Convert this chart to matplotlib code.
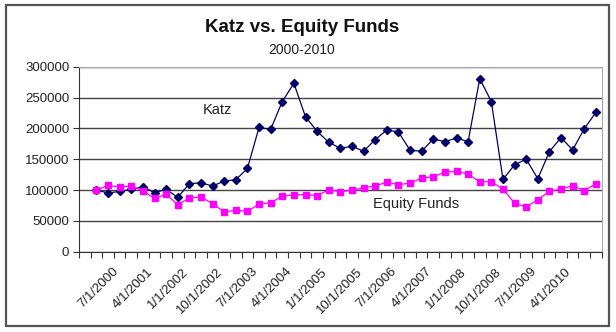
import matplotlib
matplotlib.use("Agg")
import matplotlib.pyplot as plt
import matplotlib.patches as patches
import matplotlib.transforms as mtransforms
import numpy as np

plt.rcParams['font.family'] = ['Liberation Sans', 'DejaVu Sans']

# quarterly categories, 1/1/2000 .. 1/1/2011 (first quarter has no value)
quarters = []
for year in range(2000, 2012):
    for month in (1, 4, 7, 10):
        quarters.append("%d/1/%d" % (month, year))
quarters = quarters[:45]

katz = [None,
        100000, 95200, 97800, 101000, 105400, 95700, 101000, 88200, 110200, 111800,
        106500, 114500, 116700, 135000, 201600, 198400, 243500, 273000, 218800, 195200,
        177400, 167700, 171000, 162900, 181700, 197300, 194100, 164500, 162900, 182800,
        178500, 184400, 178500, 280600, 243500, 117200, 140900, 150000, 118300, 162400,
        185000, 165000, 199500, 225800]

equity = [None,
          100000, 107500, 104800, 106500, 98400, 86600, 93000, 76300, 87100, 88700,
          78000, 64500, 67200, 65600, 76900, 79600, 89800, 92500, 92500, 90900,
          100500, 97300, 99500, 103800, 106500, 112900, 108600, 111300, 119400, 121500,
          129000, 130100, 125800, 113400, 113400, 101600, 78500, 72600, 84400, 97800,
          101600, 107000, 98900, 110200]

x = np.arange(len(quarters))
katz_y = np.array([np.nan if v is None else v for v in katz], dtype=float)
equity_y = np.array([np.nan if v is None else v for v in equity], dtype=float)

fig = plt.figure(figsize=(6.16, 3.32), dpi=100)
fig.patch.set_facecolor("white")

# outer chart frame
fig.add_artist(patches.Rectangle((6 / 616, 1 - 326 / 332), 603 / 616, 321 / 332,
                                 transform=fig.transFigure, fill=False,
                                 edgecolor="#555555", linewidth=1.6))

ax = fig.add_axes([79 / 616, 1 - 251.7 / 332, (601.7 - 79) / 616, (251.7 - 66.7) / 332])

ax.plot(x, katz_y, color="#000066", linewidth=0.9, marker="D", markersize=3.8,
        markerfacecolor="#000066", markeredgecolor="#000066")
ax.plot(x, equity_y, color="#ff00ff", linewidth=0.9, marker="s", markersize=4.4,
        markerfacecolor="#ff00ff", markeredgecolor="#ff00ff")

ax.set_xlim(-0.5, len(quarters) - 0.5)
ax.set_ylim(0, 300000)
ax.set_yticks(np.arange(0, 300001, 50000))
ax.yaxis.grid(True, color="#444444", linewidth=1.0)
ax.set_axisbelow(True)

# tick marks between categories, labels every third quarter
ax.set_xticks(np.arange(-0.5, len(quarters), 1.0))
ax.set_xticklabels([])
label_pos = list(range(2, len(quarters), 3))[:14]
ax.set_xticks(label_pos, [quarters[i] for i in label_pos], minor=True)
ax.tick_params(axis="x", which="minor", length=0, pad=10)
shift = mtransforms.ScaledTranslation(4 / 100, 0, fig.dpi_scale_trans)
for lbl in ax.get_xticklabels(minor=True):
    lbl.set_rotation(45)
    lbl.set_ha("right")
    lbl.set_va("top")
    lbl.set_rotation_mode("anchor")
    lbl.set_fontsize(9.5)
    lbl.set_color("#222222")
    lbl.set_transform(lbl.get_transform() + shift)
ax.tick_params(axis="x", which="major", direction="out", length=4, color="#333333")
ax.tick_params(axis="y", direction="out", length=4, color="#333333",
               labelsize=9.5, labelcolor="#222222", pad=3)

ax.spines["left"].set_color("#333333")
ax.spines["bottom"].set_color("#333333")
ax.spines["top"].set_color("#aaaaaa")
ax.spines["right"].set_color("#aaaaaa")

ax.text(11.4, 230000, "Katz", fontsize=10.5, color="#222222", ha="center", va="center")
ax.text(28.5, 77000, "Equity Funds", fontsize=10.5, color="#222222", ha="center", va="center")

fig.text(0.49, 1 - 28 / 332, "Katz vs. Equity Funds", fontsize=13.5, fontweight="bold",
         ha="center", va="center", color="#111111")
fig.text(0.49, 1 - 50 / 332, "2000-2010", fontsize=10, ha="center", va="center",
         color="#222222")

fig.savefig("out.png", dpi=100)
